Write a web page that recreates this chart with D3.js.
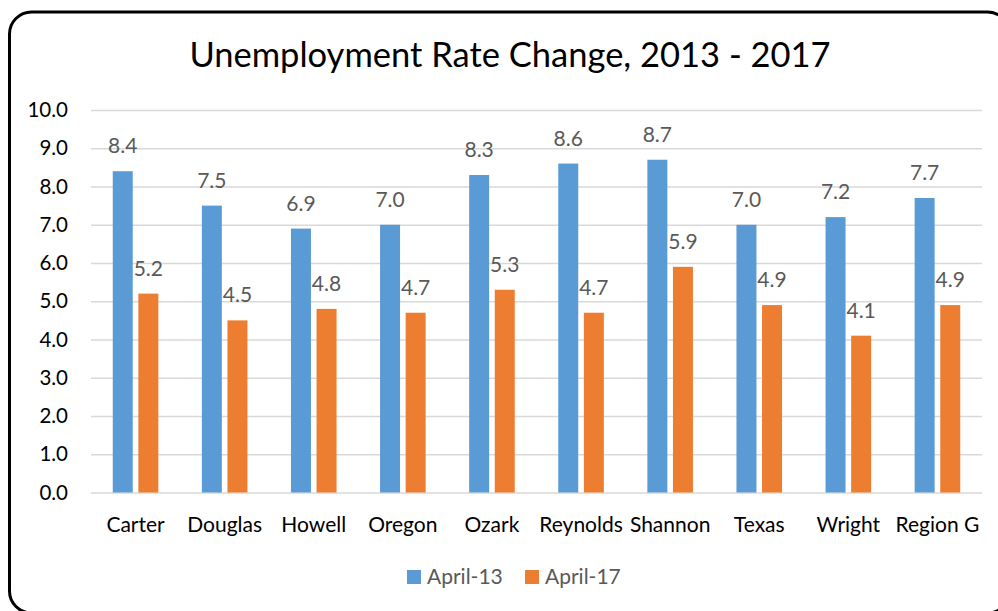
<!DOCTYPE html>
<html>
<head>
<meta charset="utf-8">
<script src="https://cdn.jsdelivr.net/npm/d3@7"></script>
<style>
  html, body { margin: 0; padding: 0; background: #fff; }
  svg { display: block; }
  text { font-family: Lato, "Open Sans", sans-serif; }
</style>
</head>
<body>
<svg id="chart" width="998" height="611"></svg>
<script>
const categories = ["Carter", "Douglas", "Howell", "Oregon", "Ozark", "Reynolds", "Shannon", "Texas", "Wright", "Region G"];
const seriesNames = ["April-13", "April-17"];
const april13 = [8.4, 7.5, 6.9, 7.0, 8.3, 8.6, 8.7, 7.0, 7.2, 7.7];
const april17 = [5.2, 4.5, 4.8, 4.7, 5.3, 4.7, 5.9, 4.9, 4.1, 4.9];
const yTicks = [0, 1, 2, 3, 4, 5, 6, 7, 8, 9, 10];
const colors = ["#5B9BD5", "#ED7D31"];
const title = "Unemployment Rate Change, 2013 - 2017";

const svg = d3.select("#chart");

// Border
svg.append("rect")
  .attr("x", 9.5).attr("y", 12)
  .attr("width", 1000).attr("height", 601)
  .attr("rx", 22).attr("ry", 22)
  .attr("fill", "#fff").attr("stroke", "#000").attr("stroke-width", 3);

// Title
svg.append("text")
  .attr("x", 510).attr("y", 67)
  .attr("text-anchor", "middle")
  .attr("font-size", 34.5)
  .attr("fill", "#000")
  .text(title);

const plot = { left: 91, right: 982, top: 110, bottom: 492.5 };

const y = d3.scaleLinear().domain([0, 10]).range([plot.bottom, plot.top]);
const x0 = d3.scaleBand().domain(categories).range([plot.left, plot.right]).padding(0);
const x1 = d3.scaleBand().domain(seriesNames).range([0, x0.bandwidth()])
  .paddingInner(0.219).paddingOuter(0.85);

// Gridlines
const yAxis = d3.axisLeft(y).tickValues(yTicks)
  .tickSize(-(plot.right - plot.left)).tickFormat(d3.format(".1f")).tickPadding(23);
const gy = svg.append("g").attr("transform", `translate(${plot.left},0)`).call(yAxis);
gy.select(".domain").remove();
gy.selectAll(".tick line").attr("stroke", "#d9d9d9").attr("stroke-width", 1.5);
gy.selectAll(".tick text").attr("font-size", 20.5).attr("fill", "#000")
  .attr("font-family", "Lato, 'Open Sans', sans-serif");

const data = categories.map((c, i) => ({ cat: c, vals: [april13[i], april17[i]] }));

const groups = svg.append("g").selectAll("g").data(data).join("g")
  .attr("transform", d => `translate(${x0(d.cat)},0)`);

groups.selectAll("rect").data(d => d.vals.map((v, j) => ({ s: seriesNames[j], v, j })))
  .join("rect")
  .attr("x", d => x1(d.s))
  .attr("y", d => y(d.v))
  .attr("width", x1.bandwidth())
  .attr("height", d => y(0) - y(d.v))
  .attr("fill", d => colors[d.j]);

groups.selectAll("text.lbl").data(d => d.vals.map((v, j) => ({ s: seriesNames[j], v, j })))
  .join("text").attr("class", "lbl")
  .attr("x", d => x1(d.s) + x1.bandwidth() / 2)
  .attr("y", d => y(d.v) - 18)
  .attr("text-anchor", "middle")
  .attr("font-size", 21)
  .attr("fill", "#595959")
  .text(d => d3.format(".1f")(d.v));

// X axis labels
const xAxis = d3.axisBottom(x0).tickSize(0).tickPadding(25);
const gx = svg.append("g").attr("transform", `translate(0,${plot.bottom})`).call(xAxis);
gx.select(".domain").remove();
gx.selectAll(".tick text").attr("font-size", 21).attr("fill", "#000")
  .attr("font-family", "Lato, 'Open Sans', sans-serif");

// Legend
const legendItems = [{ name: seriesNames[0], x: 407 }, { name: seriesNames[1], x: 525 }];
const lg = svg.append("g").selectAll("g").data(legendItems).join("g")
  .attr("transform", d => `translate(${d.x},570)`);
lg.append("rect").attr("width", 14).attr("height", 14)
  .attr("fill", (d, i) => colors[i]);
lg.append("text").attr("x", 20).attr("y", 14)
  .attr("font-size", 21).attr("fill", "#595959")
  .text(d => d.name);
</script>
</body>
</html>
